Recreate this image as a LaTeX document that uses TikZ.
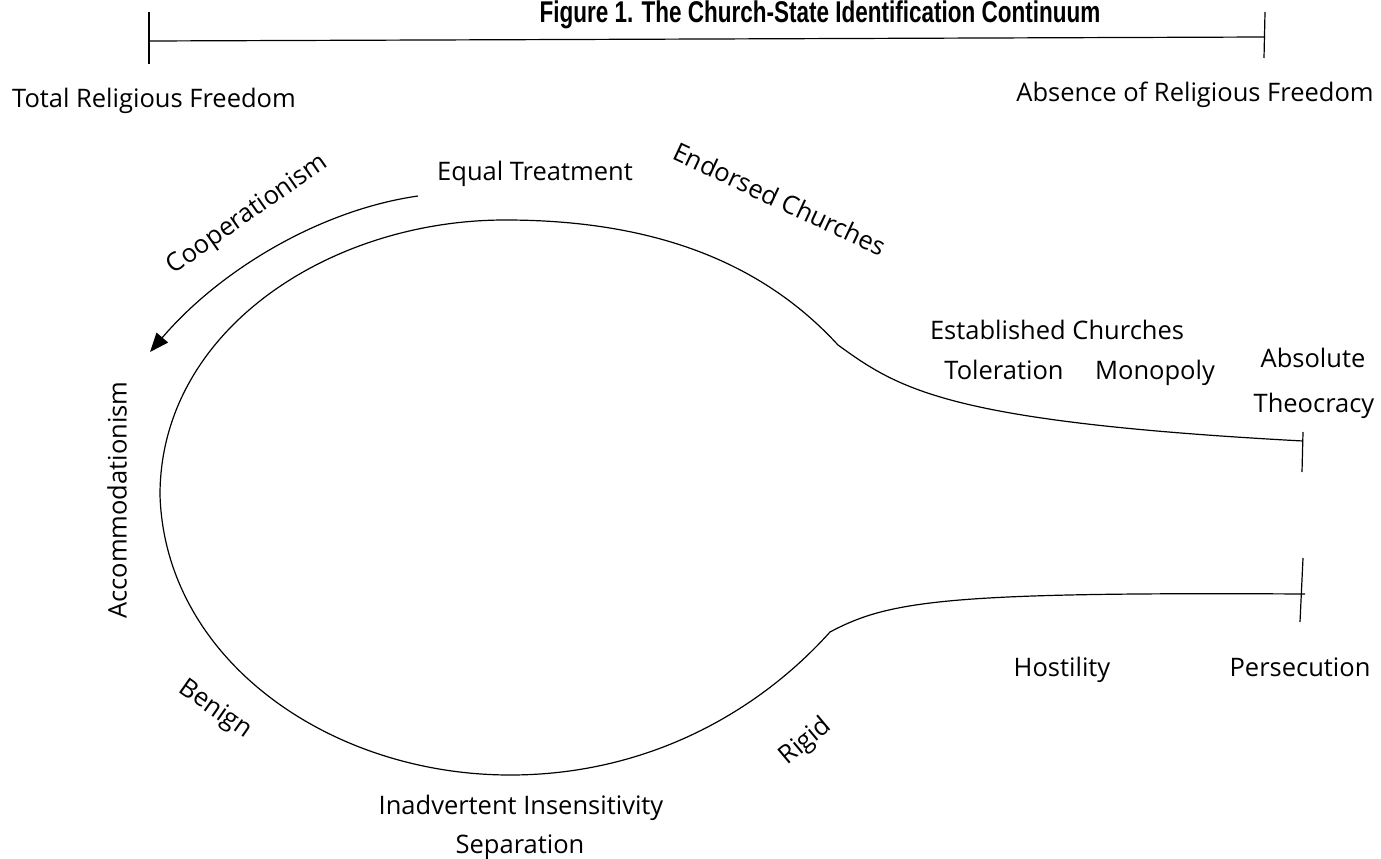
\documentclass[tikz,border=0pt]{standalone}
\usepackage{fontspec}
\setmainfont{Open Sans}
\newfontfamily\titlefont{Liberation Sans}
\usetikzlibrary{arrows.meta}
\tikzset{
  lab/.style={font=\fontsize{25.5}{30}\selectfont, inner sep=0pt, anchor=base},
  rlab/.style={font=\fontsize{25.5}{30}\selectfont, inner sep=0pt},
  ln/.style={line width=1.2pt, black},
}
\begin{document}
\begin{tikzpicture}[x=1pt,y=-1pt]
\useasboundingbox (0,0) rectangle (1381,859);
% title
\node[inner sep=0pt, anchor=base] (title) at (820,23) {\scalebox{0.75}[1]{\titlefont\bfseries\fontsize{30}{34}\selectfont Figure 1. The Church-State Identification Continuum}};
% top scale
\coordinate (sl) at (149,41);
\coordinate (sr) at (1265,37);
\draw[ln] (sl) -- (sr);
\draw[ln] (149,12) -- (149,64);
\draw[ln] (1265,12) -- (1264,58);
\node[lab] (tot) at (154,107) {Total Religious Freedom};
\node[lab] (abs) at (1195,101) {Absence of Religious Freedom};
% loop
\coordinate (ju) at (838,345);
\coordinate (jl) at (830,632);
\coordinate (top) at (505,220);
\coordinate (left) at (160,495);
\coordinate (bot) at (510,775);
\coordinate (eu) at (1303,441);
\coordinate (el) at (1305,594);
\draw[ln] (eu) .. controls (950,422) and (900,390) .. (ju)
  .. controls (760,260) and (650,220) .. (top)
  .. controls (330,220) and (160,330) .. (left);
\draw[ln] (left) .. controls (165,660) and (330,775) .. (bot)
  .. controls (650,775) and (760,710) .. (jl)
  .. controls (890,600) and (950,592) .. (el);
\draw[ln] (1303,432) -- (1302,472);
\draw[ln] (1303,558) -- (1300,622);
% arrow
\coordinate (as) at (418,196);
\coordinate (ae) at (150,352);
\draw[ln, -{Stealth[length=19pt,width=15pt,inset=0pt]}] (as) .. controls (320,210) and (220,270) .. (ae);
% labels
\node[lab] (eq) at (535,180) {Equal Treatment};
\node[rlab, rotate=35] (coop) at (248,215) {Cooperationism};
\node[rlab, rotate=-25] (endo) at (780,199) {Endorsed Churches};
\node[lab] (estab) at (1057,339) {Established Churches};
\node[lab] (tol) at (1004,379) {Toleration};
\node[lab] (mono) at (1155,379) {Monopoly};
\node[lab] (absol) at (1313,367) {Absolute};
\node[lab] (theo) at (1314,412) {Theocracy};
\node[rlab, rotate=90] (acc) at (117,500) {Accommodationism};
\node[lab] (host) at (1062,676) {Hostility};
\node[lab] (pers) at (1300,676) {Persecution};
\node[rlab, rotate=-35] (ben) at (215,710) {Benign};
\node[rlab, rotate=40] (rig) at (806,742) {Rigid};
\node[lab] (inad) at (521,814) {Inadvertent Insensitivity};
\node[lab] (sep) at (520,853) {Separation};
\end{tikzpicture}
\end{document}
